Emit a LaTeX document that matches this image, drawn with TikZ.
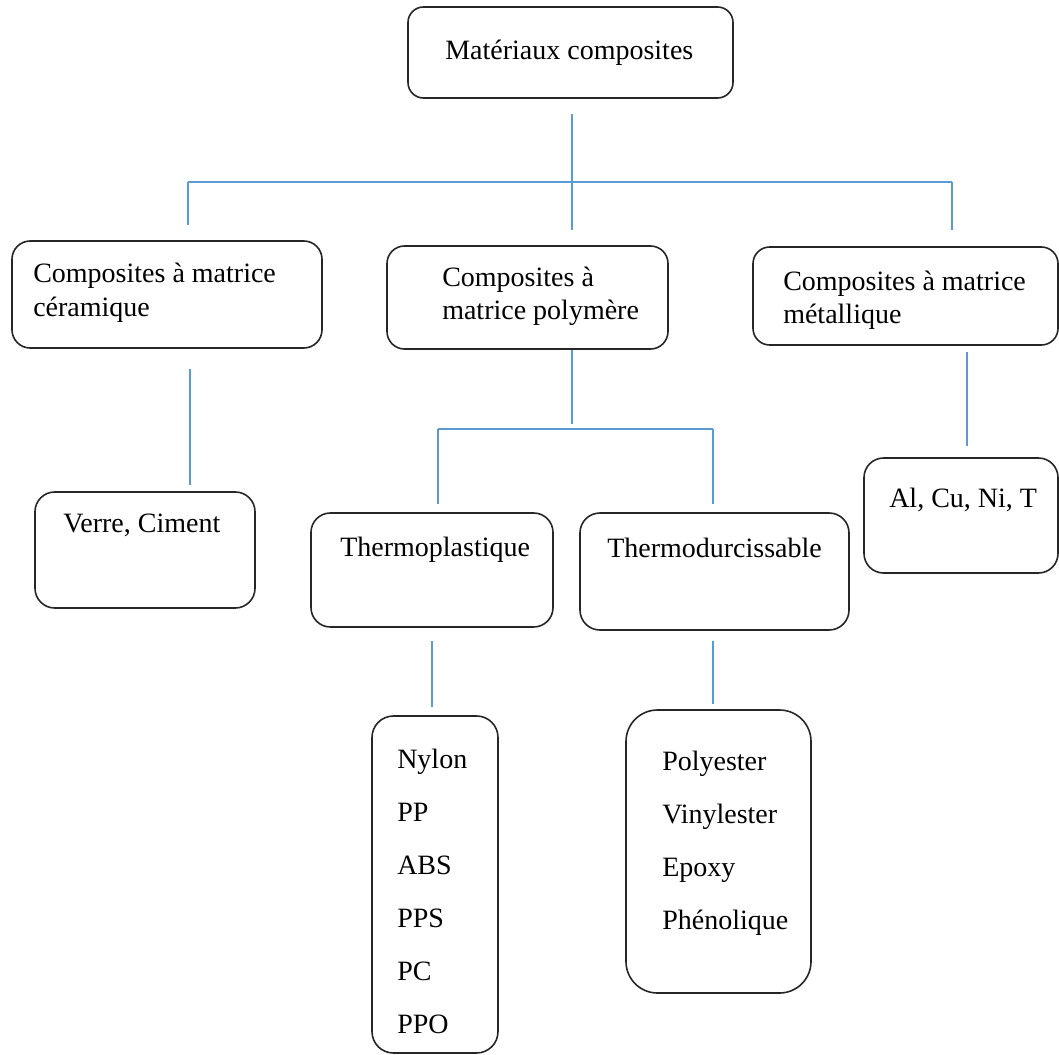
\documentclass[tikz,border=0pt]{standalone}
\usepackage{fontspec}
\setmainfont{Liberation Serif}
\begin{document}
\begin{tikzpicture}[x=0.75pt,y=-0.75pt,
  box/.style={draw=black!85, line width=1.2pt, fill=none, inner sep=0pt},
  link/.style={draw={rgb,255:red,91;green,155;blue,213}, line width=1.4pt},
  txt/.style={inner sep=0pt, anchor=base west, font=\fontsize{21}{25}\selectfont}]
\useasboundingbox (0,0) rectangle (1059,1055);
% rounded box: name, x1, y1, x2, y2 (pixel grid)
\newcommand{\rbox}[5]{%
  \pgfmathsetmacro{\bw}{(#4-#2)*0.75}%
  \pgfmathsetmacro{\bh}{(#5-#3)*0.75}%
  \pgfmathsetmacro{\br}{min(#4-#2,#5-#3)*0.75*0.17}%
  \node[box, minimum width=\bw pt, minimum height=\bh pt,
        rounded corners=\br pt] (#1) at ({(#2+#4)/2},{(#3+#5)/2}) {};}

% boxes
\rbox{top}{408}{7}{733}{98}
\rbox{cer}{12}{241}{322}{348}
\rbox{pol}{387}{246}{668}{349}
\rbox{met}{753}{247}{1058}{345}
\rbox{verre}{35}{492}{255}{608}
\rbox{tpl}{311}{513}{553}{627}
\rbox{tdur}{580}{513}{849}{630}
\rbox{alcu}{864}{458}{1058}{573}
\rbox{nyl}{372}{716}{498}{1053}
\rbox{poly}{626}{710}{811}{993}

% texts
\node[txt] (ttop) at (445,60) {Matériaux composites};
\node[txt] (tcer1) at (33,283) {Composites à matrice};
\node[txt] (tcer2) at (33,316) {céramique};
\node[txt] (tpol1) at (442,287) {Composites à};
\node[txt] (tpol2) at (442,320) {matrice polymère};
\node[txt] (tmet1) at (783,291) {Composites à matrice};
\node[txt] (tmet2) at (783,324) {métallique};
\node[txt] (tverre) at (63,532) {Verre, Ciment};
\node[txt] (talcu) at (889,507) {Al, Cu, Ni, T};
\node[txt] (ttpl) at (340,556) {Thermoplastique};
\node[txt] (ttdur) at (607,557) {Thermodurcissable};
\node[txt] (n1) at (397,768) {Nylon};
\node[txt] (n2) at (397,821) {PP};
\node[txt] (n3) at (397,874) {ABS};
\node[txt] (n4) at (397,927) {PPS};
\node[txt] (n5) at (397,980) {PC};
\node[txt] (n6) at (397,1033) {PPO};
\node[txt] (p1) at (662,770) {Polyester};
\node[txt] (p2) at (662,823) {Vinylester};
\node[txt] (p3) at (662,876) {Epoxy};
\node[txt] (p4) at (662,929) {Phénolique};

% junction points of the tree
\coordinate (jtop) at (572,182);
\coordinate (jl) at (188,182);
\coordinate (jr) at (952,182);
\coordinate (jpol) at (572,429);
\coordinate (jpl) at (438,429);
\coordinate (jpr) at (713,429);

% first level
\draw[link] ([yshift=-11.25pt]top.south -| jtop) -- ([yshift=7.5pt]cer.north -| jtop);
\draw[link] (jl) -- (jr);
\draw[link] (jl) -- ([yshift=11.25pt]cer.north -| jl);
\draw[link] (jr) -- ([yshift=12pt]met.north -| jr);

% ceramic and metallic branches
\draw[link] ([yshift=-15pt]cer.south -| 190,0) -- ([yshift=5pt]verre.north -| 190,0);
\draw[link] ([yshift=-5pt]met.south -| 967,0) -- ([yshift=8.25pt]alcu.north -| 967,0);

% polymer branch
\draw[link] (pol.south -| jpol) -- ([yshift=3.75pt]jpol);
\draw[link] (jpl) -- (jpr);
\draw[link] (jpl) -- ([yshift=6pt]tpl.north -| jpl);
\draw[link] (jpr) -- ([yshift=6pt]tdur.north -| jpr);
\draw[link] ([yshift=-9.75pt]tpl.south -| 432,0) -- ([yshift=6pt]nyl.north -| 432,0);
\draw[link] ([yshift=-7.5pt]tdur.south -| 713,0) -- ([yshift=3.75pt]poly.north -| 713,0);
\end{tikzpicture}
\end{document}
